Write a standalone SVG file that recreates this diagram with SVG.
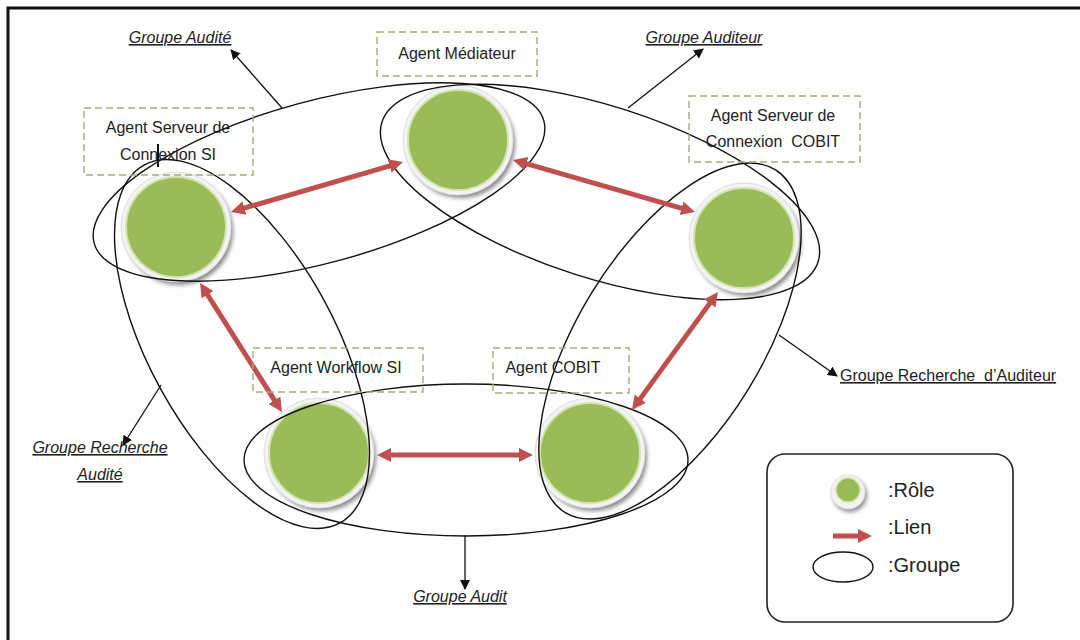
<svg xmlns="http://www.w3.org/2000/svg" xmlns:xlink="http://www.w3.org/1999/xlink" width="1080" height="640" viewBox="0 0 1080 640">
<defs>
<style>
.lbl{font-family:"Liberation Sans",Arial,sans-serif;font-size:16px;fill:#222;text-anchor:middle}
.grp{font-family:"Liberation Sans",Arial,sans-serif;font-size:16px;fill:#222;text-decoration:underline}
.it{font-style:italic}
.box{fill:none;stroke:#a9a97c;stroke-width:1.4;stroke-dasharray:7 4}
.ell{fill:none;stroke:#111;stroke-width:1.4}
.lien{stroke:#C0504D;stroke-width:5;fill:none;marker-start:url(#rh);marker-end:url(#rh)}
.ptr{stroke:#111;stroke-width:1.3;fill:none;marker-end:url(#bh)}
.leg{font-family:"Liberation Sans",Arial,sans-serif;font-size:20px;fill:#222}
</style>
<marker id="rh" markerUnits="userSpaceOnUse" markerWidth="16" markerHeight="16" refX="4" refY="8" orient="auto-start-reverse"><path d="M0,1 L14,8 L0,15 Z" fill="#C0504D"/></marker>
<marker id="rh1" markerUnits="userSpaceOnUse" markerWidth="16" markerHeight="16" refX="4" refY="8" orient="auto"><path d="M0,1 L14,8 L0,15 Z" fill="#C0504D"/></marker>
<marker id="bh" markerUnits="userSpaceOnUse" markerWidth="10" markerHeight="10" refX="9" refY="5" orient="auto"><path d="M0,0 L10,5 L0,10 Z" fill="#111"/></marker>
<filter id="sh" x="-30%" y="-30%" width="160%" height="160%"><feGaussianBlur stdDeviation="2"/></filter>
<g id="role">
<circle cx="3" cy="4" r="54" fill="#8c8c8c" filter="url(#sh)"/>
<circle r="55" fill="#f3f3f3" stroke="#dedede"/>
<circle r="50" fill="#9BBB59" stroke="#d2e5ae" stroke-width="2"/>
</g>
</defs>
<rect width="1080" height="640" fill="#fff"/>
<path d="M8,640 V8 H1080" fill="none" stroke="#111" stroke-width="3"/>

<g id="role-si"><use xlink:href="#role" x="176" y="227"/></g>
<g id="role-mediateur"><use xlink:href="#role" x="458" y="140"/></g>
<g id="role-cobit-serveur"><use xlink:href="#role" x="744" y="238"/></g>
<g id="role-workflow"><use xlink:href="#role" x="319" y="453"/></g>
<g id="role-cobit"><use xlink:href="#role" x="590" y="453"/></g>

<g id="groupes">
<ellipse id="g-audite" class="ell" cx="319" cy="182" rx="233" ry="81" transform="rotate(-15.2 319 182)"/>
<ellipse id="g-auditeur" class="ell" cx="600" cy="192" rx="229" ry="86" transform="rotate(17.8 600 192)"/>
<ellipse id="g-rech-audite" class="ell" cx="242" cy="344" rx="204" ry="93" transform="rotate(61.3 242 344)"/>
<ellipse id="g-rech-auditeur" class="ell" cx="670" cy="341" rx="201" ry="92" transform="rotate(121.55 670 341)"/>
<ellipse id="g-audit" class="ell" cx="466" cy="460" rx="222" ry="76"/>
</g>

<g id="connectors">
<line class="lien" x1="240.6" y1="209.2" x2="393.4" y2="164.8"/>
<line class="lien" x1="522.6" y1="162.7" x2="685.4" y2="209.3"/>
<line class="lien" x1="205.4" y1="291.4" x2="276.6" y2="403.6"/>
<line class="lien" x1="387" y1="455" x2="523" y2="455"/>
<line class="lien" x1="637.9" y1="401.9" x2="712.1" y2="300.1"/>
<line class="ptr" x1="282" y1="108" x2="231" y2="50"/>
<line class="ptr" x1="628" y1="108" x2="703" y2="49"/>
<line class="ptr" x1="161" y1="385" x2="123" y2="445"/>
<line class="ptr" x1="779" y1="335" x2="837" y2="376"/>
<line class="ptr" x1="465" y1="535" x2="465" y2="589"/>
</g>

<g id="agent-mediateur">
<rect class="box" x="377" y="32" width="160" height="44"/>
<text class="lbl" x="457" y="59">Agent Médiateur</text>
</g>
<g id="agent-serveur-si">
<rect class="box" x="84" y="108" width="169" height="67"/>
<text class="lbl" x="168" y="133">Agent Serveur de</text>
<text class="lbl" x="168" y="160">Connexion SI</text>
<line x1="158" y1="144" x2="158" y2="167" stroke="#111" stroke-width="2"/>
</g>
<g id="agent-serveur-cobit">
<rect class="box" x="689" y="96" width="171" height="66"/>
<text class="lbl" x="773" y="121">Agent Serveur de</text>
<text class="lbl" x="773" y="147">Connexion&#160; COBIT</text>
</g>
<g id="agent-workflow">
<rect class="box" x="253" y="348" width="170" height="44"/>
<text class="lbl" x="336" y="373">Agent Workflow SI</text>
</g>
<g id="agent-cobit">
<rect class="box" x="493" y="348" width="136" height="45"/>
<text class="lbl" x="553" y="373">Agent COBIT</text>
</g>

<g id="labels">
<text class="grp it" x="180" y="43" text-anchor="middle">Groupe Audité</text>
<text class="grp it" x="704" y="43" text-anchor="middle">Groupe Auditeur</text>
<text class="grp it" x="100" y="453" text-anchor="middle">Groupe Recherche</text>
<text class="grp it" x="100" y="480" text-anchor="middle">Audité</text>
<text class="grp" x="840" y="381">Groupe Recherche&#160; d’Auditeur</text>
<text class="grp it" x="460" y="602" text-anchor="middle">Groupe Audit</text>
</g>

<g id="legende">
<rect x="767" y="454" width="246" height="168" rx="18" fill="none" stroke="#222" stroke-width="1.6"/>
<circle cx="850" cy="495" r="17" fill="#8c8c8c" filter="url(#sh)"/>
<circle cx="848" cy="492" r="17" fill="#f3f3f3" stroke="#dedede"/>
<circle cx="848" cy="490" r="12" fill="#9BBB59" stroke="#d2e5ae" stroke-width="1.5"/>
<line x1="833" y1="536" x2="862" y2="536" stroke="#C0504D" stroke-width="5" marker-end="url(#rh1)"/>
<ellipse cx="843" cy="567" rx="30" ry="15" fill="none" stroke="#111" stroke-width="1.4"/>
<text class="leg" x="888" y="497">:Rôle</text>
<text class="leg" x="888" y="534">:Lien</text>
<text class="leg" x="888" y="572">:Groupe</text>
</g>
</svg>
